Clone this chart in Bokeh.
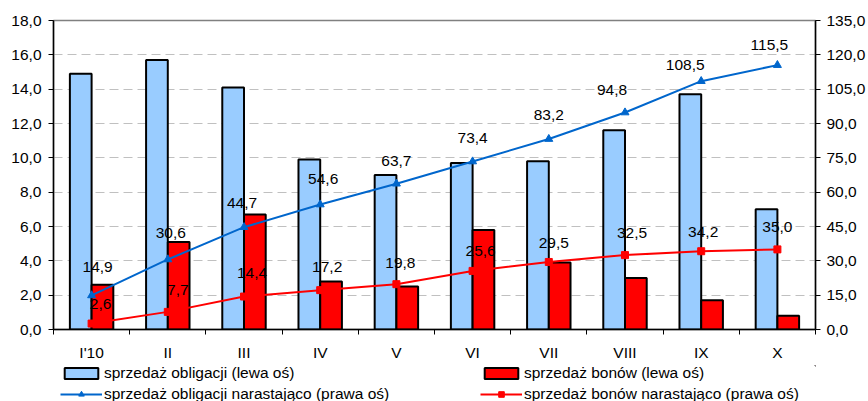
import numpy as np
from bokeh.plotting import figure
from bokeh.layouts import column
from bokeh.models import (Range1d, LinearAxis, FixedTicker, CustomJSTickFormatter,
                          ColumnDataSource, LabelSet, Legend, LegendItem)
from bokeh.core.properties import value
from bokeh.transform import dodge
from bokeh.embed import file_html
from bokeh.resources import INLINE

# --- data -------------------------------------------------------------
months = ["I'10", "II", "III", "IV", "V", "VI", "VII", "VIII", "IX", "X"]
bond_sales = [14.9, 15.7, 14.1, 9.9, 9.0, 9.7, 9.8, 11.6, 13.7, 7.0]      # left axis
bill_sales = [2.6, 5.1, 6.7, 2.8, 2.5, 5.8, 3.9, 3.0, 1.7, 0.8]           # left axis
bond_cumulative = [14.9, 30.6, 44.7, 54.6, 63.7, 73.4, 83.2, 94.8, 108.5, 115.5]  # right axis
bill_cumulative = [2.6, 7.7, 14.4, 17.2, 19.8, 25.6, 29.5, 32.5, 34.2, 35.0]      # right axis
left_ticks = [0, 2, 4, 6, 8, 10, 12, 14, 16, 18]
right_ticks = [0, 15, 30, 45, 60, 75, 90, 105, 120, 135]

# hand nudges (screen px) for the value labels of the cumulative lines
bond_label_dx = [6, 3, -2, 3, 0, 0, 0, -13, -16, -8]
bond_label_dy = [28, 26, 24, 26, 23, 23, 24, 23, 16, 20]
bill_label_dx = [9, 10, 8, 7, 4, 8, 5, 7, 2, 0]
bill_label_dy = [20, 22, 24, 23, 21, 20, 19, 22, 19, 22]

FONT = "Liberation Sans"
FS = "15.5px"
BLUE_BAR = "#99ccff"
RED = "#ff0000"
BLUE_LINE = "#0066cc"
W = 868
MAIN_H = 365
LEG_H = 401 - MAIN_H


def fmt(v):
    return f"{v:.1f}".replace(".", ",")


n = len(months)
centers = np.arange(n) + 0.5
bar_w = 0.285

src = ColumnDataSource(dict(
    x=centers, bonds=bond_sales, bills=bill_sales,
    bond_cum=bond_cumulative, bill_cum=bill_cumulative,
    bond_txt=[fmt(v) for v in bond_cumulative],
    bill_txt=[fmt(v) for v in bill_cumulative],
    bdx=bond_label_dx, bdy=bond_label_dy, rdx=bill_label_dx, rdy=bill_label_dy,
))

p = figure(width=W, height=MAIN_H, output_backend="svg", toolbar_location=None,
           x_range=Range1d(0, n), y_range=Range1d(left_ticks[0], left_ticks[-1]),
           min_border_left=53, min_border_right=53, min_border_top=20, min_border_bottom=36,
           background_fill_color="white", border_fill_color="white")
p.extra_y_ranges = {"right": Range1d(right_ticks[0], right_ticks[-1])}

p.outline_line_color = "#808080"
p.outline_line_width = 1.5

COMMA_JS = "return tick.toFixed(1).replace('.', ',');"


def style_value_axis(ax, standoff):
    ax.axis_line_color = "black"
    ax.axis_line_width = 1.5
    ax.major_tick_line_color = "black"
    ax.major_tick_out = 5
    ax.major_tick_in = 0
    ax.minor_tick_line_color = None
    ax.major_label_text_font = FONT
    ax.major_label_text_font_size = FS
    ax.major_label_text_color = "black"
    ax.major_label_standoff = standoff


# left axis
ya = p.yaxis[0]
ya.ticker = FixedTicker(ticks=left_ticks)
ya.formatter = CustomJSTickFormatter(code=COMMA_JS)
style_value_axis(ya, 7)

# right axis
ra = LinearAxis(y_range_name="right", ticker=FixedTicker(ticks=right_ticks),
                formatter=CustomJSTickFormatter(code=COMMA_JS))
style_value_axis(ra, 6)
p.add_layout(ra, "right")

# category axis: labels at centres, tick marks between categories
xa = p.xaxis[0]
xa.ticker = FixedTicker(ticks=list(centers), minor_ticks=list(range(n + 1)))
xa.formatter = CustomJSTickFormatter(args=dict(names=months),
                                     code="return names[Math.round(tick - 0.5)];")
xa.axis_line_color = "black"
xa.axis_line_width = 1.5
xa.major_tick_line_color = None
xa.major_tick_out = 0
xa.major_tick_in = 0
xa.minor_tick_line_color = "black"
xa.minor_tick_out = 5
xa.minor_tick_in = 0
xa.major_label_text_font = FONT
xa.major_label_text_font_size = FS
xa.major_label_text_color = "black"
xa.major_label_standoff = 9

p.xgrid.visible = False
p.ygrid.ticker = FixedTicker(ticks=left_ticks[1:-1])
p.ygrid.grid_line_color = "#c0c0c0"
p.ygrid.grid_line_dash = "9 5"
p.ygrid.grid_line_width = 1

BAR_STYLE_BOND = dict(fill_color=BLUE_BAR, line_color="black", line_width=2)
BAR_STYLE_BILL = dict(fill_color=RED, line_color="black", line_width=2)

# bars
p.vbar(x=dodge("x", -bar_w / 2, range=p.x_range), top="bonds", width=bar_w,
       source=src, **BAR_STYLE_BOND)
p.vbar(x=dodge("x", bar_w / 2, range=p.x_range), top="bills", width=bar_w,
       source=src, **BAR_STYLE_BILL)

# cumulative lines on the right axis
p.line("x", "bond_cum", source=src, y_range_name="right", line_color=BLUE_LINE, line_width=2)
p.scatter("x", "bond_cum", source=src, y_range_name="right", marker="triangle",
          size=8, fill_color=BLUE_LINE, line_color=BLUE_LINE)
p.line("x", "bill_cum", source=src, y_range_name="right", line_color=RED, line_width=2)
p.scatter("x", "bill_cum", source=src, y_range_name="right", marker="square",
          size=7, fill_color=RED, line_color=RED)

for txt, yfield, dx, dy in [("bond_txt", "bond_cum", "bdx", "bdy"),
                            ("bill_txt", "bill_cum", "rdx", "rdy")]:
    p.add_layout(LabelSet(x="x", y=yfield, text=txt, source=src, y_range_name="right",
                          x_offset=dx, y_offset=dy, text_align="center",
                          text_baseline="middle", text_font=value(FONT),
                          text_font_size=value(FS), text_color="black"))

# --- legend strip under the chart ---------------------------------------
lp = figure(width=W, height=LEG_H, output_backend="svg", toolbar_location=None,
            x_range=Range1d(0, 1), y_range=Range1d(0, 1),
            x_axis_location=None, y_axis_location=None,
            min_border=0, background_fill_color="white", border_fill_color="white")
lp.outline_line_color = None
lp.grid.visible = False

# legend swatches, drawn outside the strip's visible range
off_x, off_y = [5, 6], [5, 5]
sw_bond = lp.vbar(x=off_x[:1], top=off_y[:1], bottom=4, width=0.5, **BAR_STYLE_BOND)
sw_bill = lp.vbar(x=off_x[:1], top=off_y[:1], bottom=4, width=0.5, **BAR_STYLE_BILL)
sw_bl = lp.line(off_x, off_y, line_color=BLUE_LINE, line_width=2)
sw_bm = lp.scatter(off_x, off_y, marker="triangle", size=8, fill_color=BLUE_LINE, line_color=BLUE_LINE)
sw_rl = lp.line(off_x, off_y, line_color=RED, line_width=2)
sw_rm = lp.scatter(off_x, off_y, marker="square", size=7, fill_color=RED, line_color=RED)


def make_legend(items, x):
    return Legend(items=items, location=(x, -2), orientation="vertical",
                  padding=0, margin=0, spacing=3, glyph_width=42, glyph_height=14,
                  label_height=18, label_standoff=2, label_text_font=FONT,
                  label_text_font_size=FS, label_text_color="black",
                  border_line_alpha=0, background_fill_alpha=0)


# x positions are relative to the strip's frame, which lines up with the chart frame
lp.add_layout(make_legend([
    LegendItem(label="sprzedaż obligacji (lewa oś)", renderers=[sw_bond]),
    LegendItem(label="sprzedaż obligacji narastająco (prawa oś)", renderers=[sw_bl, sw_bm]),
], 7))
lp.add_layout(make_legend([
    LegendItem(label="sprzedaż bonów (lewa oś)", renderers=[sw_bill]),
    LegendItem(label="sprzedaż bonów narastająco (prawa oś)", renderers=[sw_rl, sw_rm]),
], 427))

open("out.html", "w").write(file_html(column(p, lp, spacing=0), INLINE))
